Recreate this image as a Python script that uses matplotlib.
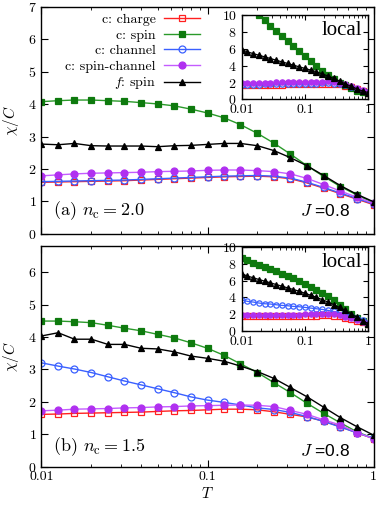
import matplotlib
matplotlib.use("Agg")
import matplotlib.pyplot as plt
from matplotlib.ticker import FixedLocator, FixedFormatter, NullFormatter, LogLocator

plt.rcParams['font.family'] = ['cmr10', 'DejaVu Serif']
plt.rcParams['mathtext.fontset'] = 'cm'
plt.rcParams['axes.formatter.use_mathtext'] = True
plt.rcParams['font.size'] = 10

# temperature grids (main panels / insets)
T = [0.01, 0.0126, 0.0158, 0.02, 0.0251, 0.0316, 0.0398, 0.0501, 0.0631, 0.0794,
     0.1, 0.126, 0.158, 0.2, 0.251, 0.316, 0.398, 0.501, 0.631, 0.794, 1.0]
T_loc = [0.01, 0.01233, 0.0152, 0.01874, 0.0231, 0.02848, 0.03511, 0.04329, 0.05337,
         0.06579, 0.08111, 0.1, 0.1233, 0.152, 0.1874, 0.231, 0.2848, 0.3511,
         0.4329, 0.5337, 0.6579, 0.8111, 1.0]

labels = ['c: charge', 'c: spin', 'c: channel', 'c: spin-channel', '$f$: spin']

# (a) n_c = 2.0
a_charge = [1.59, 1.60, 1.61, 1.62, 1.63, 1.64, 1.66, 1.68, 1.70, 1.72, 1.74, 1.76, 1.77, 1.78, 1.76, 1.70, 1.57, 1.41, 1.24, 1.07, 0.90]
a_spin = [4.08, 4.11, 4.13, 4.13, 4.11, 4.09, 4.05, 4.01, 3.95, 3.85, 3.73, 3.58, 3.37, 3.10, 2.80, 2.46, 2.10, 1.77, 1.46, 1.20, 0.96]
a_channel = [1.61, 1.62, 1.63, 1.64, 1.65, 1.66, 1.68, 1.70, 1.72, 1.74, 1.76, 1.78, 1.79, 1.80, 1.78, 1.72, 1.59, 1.43, 1.26, 1.09, 0.92]
a_spinch = [1.79, 1.82, 1.85, 1.87, 1.88, 1.89, 1.90, 1.92, 1.93, 1.94, 1.96, 1.97, 1.97, 1.95, 1.92, 1.85, 1.71, 1.52, 1.32, 1.13, 0.94]
a_fspin = [2.77, 2.75, 2.79, 2.72, 2.71, 2.71, 2.71, 2.69, 2.72, 2.73, 2.76, 2.79, 2.79, 2.72, 2.57, 2.35, 2.10, 1.80, 1.49, 1.22, 0.99]

ia_charge = [1.72, 1.72, 1.73, 1.73, 1.74, 1.74, 1.75, 1.76, 1.77, 1.78, 1.79, 1.80, 1.82, 1.84, 1.86, 1.87, 1.85, 1.77, 1.62, 1.42, 1.19, 0.97, 0.80]
ia_spin = [11.8, 11.2, 10.6, 10.0, 9.4, 8.75, 8.1, 7.5, 6.9, 6.3, 5.73, 5.14, 4.54, 3.95, 3.4, 2.88, 2.4, 2.0, 1.66, 1.3, 1.02, 0.85, 0.75]
ia_channel = [1.75, 1.75, 1.76, 1.76, 1.77, 1.77, 1.78, 1.79, 1.80, 1.81, 1.82, 1.83, 1.85, 1.87, 1.89, 1.90, 1.88, 1.80, 1.65, 1.45, 1.22, 1.00, 0.82]
ia_spinch = [1.95, 1.96, 1.97, 1.98, 1.99, 2.00, 2.01, 2.02, 2.03, 2.04, 2.05, 2.07, 2.08, 2.10, 2.12, 2.13, 2.10, 2.00, 1.80, 1.55, 1.30, 1.05, 0.85]
ia_fspin = [5.93, 5.65, 5.45, 5.25, 5.06, 4.86, 4.66, 4.46, 4.27, 4.07, 3.87, 3.68, 3.48, 3.28, 3.04, 2.76, 2.49, 2.17, 1.85, 1.54, 1.26, 0.98, 0.80]

# (b) n_c = 1.5
b_charge = [1.61, 1.62, 1.64, 1.65, 1.66, 1.67, 1.68, 1.70, 1.72, 1.73, 1.75, 1.77, 1.77, 1.75, 1.69, 1.61, 1.53, 1.40, 1.23, 1.04, 0.86]
b_spin = [4.49, 4.49, 4.47, 4.44, 4.36, 4.27, 4.19, 4.08, 3.97, 3.82, 3.65, 3.43, 3.17, 2.90, 2.59, 2.28, 1.95, 1.64, 1.35, 1.07, 0.87]
b_channel = [3.20, 3.10, 3.01, 2.90, 2.77, 2.64, 2.52, 2.40, 2.28, 2.15, 2.05, 1.98, 1.90, 1.81, 1.76, 1.67, 1.54, 1.39, 1.22, 1.04, 0.87]
b_spinch = [1.72, 1.74, 1.77, 1.78, 1.79, 1.81, 1.82, 1.84, 1.85, 1.87, 1.88, 1.89, 1.90, 1.89, 1.85, 1.73, 1.61, 1.44, 1.28, 1.05, 0.86]
b_fspin = [4.03, 4.13, 3.93, 3.93, 3.77, 3.77, 3.65, 3.63, 3.54, 3.41, 3.34, 3.25, 3.10, 2.93, 2.72, 2.44, 2.15, 1.83, 1.51, 1.23, 0.97]

ib_charge = [1.75, 1.75, 1.76, 1.76, 1.77, 1.77, 1.78, 1.78, 1.79, 1.80, 1.81, 1.82, 1.83, 1.84, 1.85, 1.85, 1.82, 1.75, 1.60, 1.42, 1.22, 1.02, 0.83]
ib_spin = [8.67, 8.47, 8.15, 7.87, 7.63, 7.39, 7.15, 6.83, 6.55, 6.27, 5.94, 5.63, 5.27, 4.94, 4.54, 4.13, 3.65, 3.13, 2.61, 2.08, 1.60, 1.20, 0.81]
ib_channel = [3.73, 3.53, 3.45, 3.33, 3.25, 3.21, 3.13, 3.05, 3.01, 2.93, 2.89, 2.81, 2.73, 2.65, 2.57, 2.45, 2.33, 2.21, 2.01, 1.81, 1.57, 1.29, 1.00]
ib_spinch = [1.85, 1.86, 1.87, 1.88, 1.89, 1.90, 1.91, 1.92, 1.93, 1.94, 1.95, 1.97, 1.98, 2.00, 2.02, 2.03, 2.00, 1.90, 1.72, 1.50, 1.27, 1.05, 0.85]
ib_fspin = [6.83, 6.55, 6.35, 6.14, 5.94, 5.74, 5.54, 5.34, 5.14, 4.94, 4.74, 4.50, 4.26, 4.02, 3.73, 3.45, 3.13, 2.81, 2.45, 2.05, 1.65, 1.24, 0.88]

# marker / line styles for the five curves
styles = [
    dict(color='#ff2020', marker='s', mfc='none', mec='#ff2020'),
    dict(color='#2a9a2a', marker='s', mfc='#0e7a0e', mec='#0e7a0e'),
    dict(color='#3a60ff', marker='o', mfc='none', mec='#3a60ff'),
    dict(color='#c45cff', marker='o', mfc='#b030f0', mec='#b030f0'),
    dict(color='black', marker='^', mfc='black', mec='black'),
]


def style_axes(ax):
    ax.set_xscale('log')
    ax.set_xlim(0.01, 1)
    ax.tick_params(which='both', direction='in', top=True, right=True, labelsize=10)
    ax.tick_params(which='major', length=5, width=0.8)
    ax.tick_params(which='minor', length=2.5, width=0.6)
    ax.xaxis.set_major_locator(FixedLocator([0.01, 0.1, 1]))
    ax.xaxis.set_major_formatter(FixedFormatter(['0.01', '0.1', '1']))
    ax.xaxis.set_minor_locator(LogLocator(base=10, subs=range(2, 10)))
    ax.xaxis.set_minor_formatter(NullFormatter())
    for sp in ax.spines.values():
        sp.set_linewidth(1.0)


def draw(ax, data, T_, ms, lw):
    handles = []
    for y, st, lab in zip(data, styles, labels):
        h, = ax.plot(T_, y, lw=lw, ms=ms, mew=0.9, label=lab, clip_on=True, **st)
        handles.append(h)
    return handles


fig = plt.figure(figsize=(3.82, 5.05), dpi=100)
ax_a = fig.add_axes([0.1086, 0.537, 0.8692, 0.449])
ax_b = fig.add_axes([0.1086, 0.0762, 0.8692, 0.4362])

for ax, data, ymax, yt in [(ax_a, [a_charge, a_spin, a_channel, a_spinch, a_fspin], 7, range(0, 8)),
                           (ax_b, [b_charge, b_spin, b_channel, b_spinch, b_fspin], 6.8, range(0, 7))]:
    style_axes(ax)
    handles = draw(ax, data, T, 5, 1.0)
    ax.set_ylim(0, ymax)
    ax.set_yticks(list(yt))
    ax.set_ylabel(r'$\chi/C$', fontsize=11, labelpad=5)

ax_a.tick_params(labelbottom=False)
ax_b.set_xlabel(r'$T$', fontsize=11, labelpad=2)

leg = ax_a.legend(handles=handles, loc='upper right', bbox_to_anchor=(0.477, 0.972),
                  frameon=False, markerfirst=False, fontsize=10, handlelength=2.6,
                  labelspacing=0.2, borderpad=0, borderaxespad=0, handletextpad=0.6)

ax_a.text(0.035, 0.1, r'(a) $n_{\rm c} = 2.0$', transform=ax_a.transAxes, fontsize=13, va='center')
ax_b.text(0.035, 0.09, r'(b) $n_{\rm c} = 1.5$', transform=ax_b.transAxes, fontsize=13, va='center')
for ax, yy in [(ax_a, 0.1), (ax_b, 0.07)]:
    ax.text(0.929, yy, r'$J$ =0.8', transform=ax.transAxes, fontsize=12.5, va='center', ha='right',
            family='Liberation Sans')

# insets with local susceptibilities
for bottom, data in [(0.8034, [ia_charge, ia_spin, ia_channel, ia_spinch, ia_fspin]),
                     (0.3446, [ib_charge, ib_spin, ib_channel, ib_spinch, ib_fspin])]:
    ins = fig.add_axes([0.6327, bottom, 0.3314, 0.1660])
    style_axes(ins)
    ins.tick_params(which='major', length=3.5)
    ins.tick_params(which='minor', length=2)
    draw(ins, data, T_loc, 3.8, 0.9)
    ins.set_ylim(0, 10)
    ins.set_yticks([0, 2, 4, 6, 8, 10])
    ins.text(0.95, 0.82, 'local', transform=ins.transAxes, fontsize=15, ha='right', va='center',
             family='Liberation Serif')

fig.savefig('out.png', dpi=100)
